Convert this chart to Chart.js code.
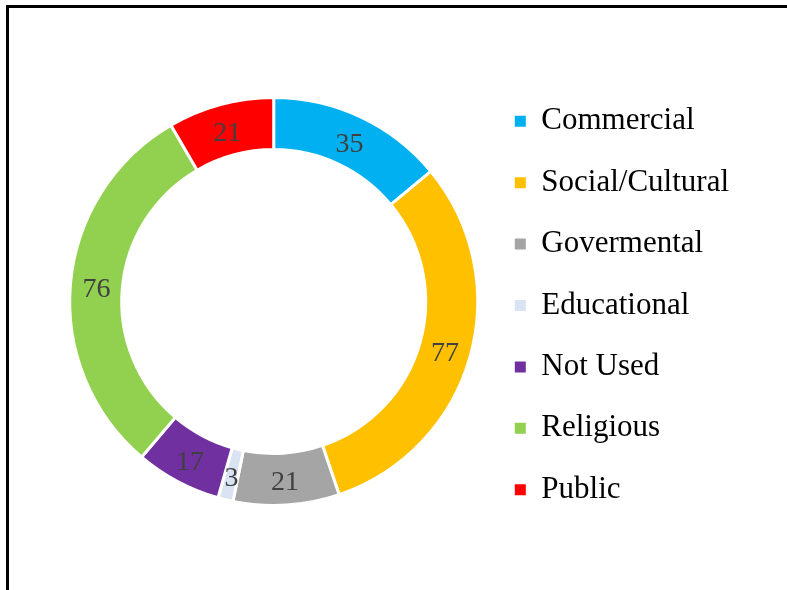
<!DOCTYPE html>
<html>
<head>
<meta charset="utf-8">
<script src="https://cdn.jsdelivr.net/npm/chart.js@4.4.0/dist/chart.umd.min.js"></script>
<style>
  html, body { margin: 0; padding: 0; background: #fff; }
  #wrap { position: relative; width: 787px; height: 590px; overflow: hidden; }
  #frame { position: absolute; left: 6px; top: 5px; width: 800px; height: 600px;
           border-top: 3px solid #000; border-left: 3px solid #000; pointer-events: none; }
  canvas { position: absolute; left: 0; top: 0; }
</style>
</head>
<body>
<div id="wrap">
  <canvas id="myChart" width="787" height="590"></canvas>
  <div id="frame"></div>
</div>
<script>
// categories and counts
const categories = ['Commercial', 'Social/Cultural', 'Govermental', 'Educational', 'Not Used', 'Religious', 'Public']
const counts = [35, 77, 21, 3, 17, 76, 21]
const sliceColors = ['#00B0F0', '#FFC000', '#A5A5A5', '#DAE3F3', '#7030A0', '#92D050', '#FF0000']

// write the value in the middle of each ring piece
const sliceLabels = {
  id: 'sliceLabels',
  afterDatasetsDraw(chart) {
    const ctx = chart.ctx
    const meta = chart.getDatasetMeta(0)
    ctx.save()
    ctx.font = '28px "Liberation Serif", "Times New Roman", serif'
    ctx.fillStyle = '#404040'
    ctx.textAlign = 'center'
    ctx.textBaseline = 'middle'
    meta.data.forEach((arc, i) => {
      const pos = arc.tooltipPosition()
      ctx.fillText(counts[i], pos.x, pos.y + 4)
    })
    ctx.restore()
  }
}

const ctx = document.getElementById('myChart').getContext('2d')
const myChart = new Chart(ctx, {
  type: 'doughnut',
  data: {
    labels: categories,
    datasets: [{
      data: counts,
      backgroundColor: sliceColors,
      borderColor: '#fff',
      borderWidth: 3,
      hoverBorderWidth: 3,
      hoverOffset: 0
    }]
  },
  options: {
    responsive: false,
    animation: false,
    radius: 204,
    cutout: '74.5%',
    layout: {
      padding: { left: 63, right: 48, top: 66, bottom: 53 }
    },
    plugins: {
      tooltip: { enabled: false },
      legend: {
        position: 'right',
        title: { display: true, text: '', padding: 0, font: { size: 8, lineHeight: 1 } },
        labels: {
          boxWidth: 11,
          boxHeight: 11,
          padding: 30.4,
          color: '#000',
          font: { family: '"Liberation Serif", "Times New Roman", serif', size: 31 },
          generateLabels(chart) {
            const items = Chart.overrides.doughnut.plugins.legend.labels.generateLabels(chart)
            items.forEach(it => { it.lineWidth = 0 })
            return items
          }
        }
      }
    }
  },
  plugins: [sliceLabels]
})
</script>
</body>
</html>
